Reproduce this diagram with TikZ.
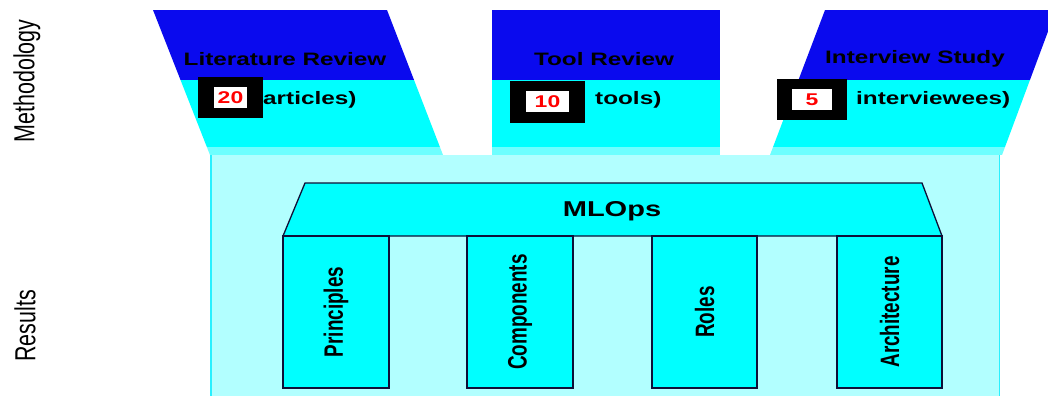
\documentclass[tikz,border=0pt]{standalone}
\usepackage{fontspec}
% wide and tall variants of the sans face
\newfontfamily\widesf[FakeStretch=1.35]{Liberation Sans}
\newfontfamily\tallsf[FakeStretch=0.74]{Liberation Sans}
\newfontfamily\tallersf[FakeStretch=0.71]{Liberation Sans}

\definecolor{deepblue}{RGB}{10,10,238}
\definecolor{aqua}{RGB}{0,255,255}
\definecolor{midaqua}{RGB}{110,255,255}
\definecolor{paleaqua}{RGB}{178,255,255}
\definecolor{edgeaqua}{RGB}{40,240,255}
\definecolor{pillarline}{RGB}{15,15,55}

\tikzset{
  pillarbox/.style={draw=pillarline, line width=1.3pt, fill=aqua, line join=miter},
  toplabel/.style={inner sep=0pt, font=\widesf\bfseries\fontsize{18}{20}\selectfont},
  countlabel/.style={inner sep=0pt, anchor=west, font=\widesf\bfseries\fontsize{18}{20}\selectfont},
  pillartext/.style={inner sep=0pt, rotate=90, font=\tallersf\bfseries\fontsize{26.6}{28}\selectfont},
  sidelabel/.style={inner sep=0pt, rotate=90, font=\tallsf\fontsize{29}{32}\selectfont},
  blackbox/.style={fill=black, draw=none},
  whitebox/.style={fill=white, draw=none},
  numtext/.style={inner sep=0pt, text=red, font=\widesf\bfseries\fontsize{17}{20}\selectfont}
}

\begin{document}
\begin{tikzpicture}[x=1pt,y=-1pt]
\useasboundingbox (0,0) rectangle (1048,396);
\fill[white] (0,0) rectangle (1048,396);

% results area
\fill[paleaqua] (210,155) rectangle (1000,396);
\draw[edgeaqua, line width=1.5pt] (211,155) -- (211,396);
\draw[edgeaqua, line width=1.5pt] (999.5,155) -- (999.5,396);

% methodology funnels: literature review
\begin{scope}
  \clip (153,10) -- (387,10) -- (443,155) -- (210,155) -- cycle;
  \fill[deepblue] (140,10) rectangle (460,80);
  \fill[aqua] (140,80) rectangle (460,147);
  \fill[midaqua] (140,147) rectangle (460,155);
\end{scope}
% tool review
\fill[deepblue] (492,10) rectangle (720,80);
\fill[aqua] (492,80) rectangle (720,147);
\fill[midaqua] (492,147) rectangle (720,155);
% interview study
\begin{scope}
  \clip (825,10) -- (1056,10) -- (1002,155) -- (770,155) -- cycle;
  \fill[deepblue] (760,10) rectangle (1060,80);
  \fill[aqua] (760,80) rectangle (1060,147);
  \fill[midaqua] (760,147) rectangle (1060,155);
\end{scope}

% funnel titles
\node[toplabel] (litT) at (285,59) {Literature Review};
\node[toplabel] (toolT) at (604,59) {Tool Review};
\node[toplabel] (intT) at (915,59) {Interview Study};

% counts
\node[countlabel] (litC) at (263,100) {articles)};
\fill[blackbox] (198,77) rectangle (263,118);
\fill[whitebox] (214,87) rectangle (247,108);
\node[numtext] (litN) at (230.5,97.5) {20};

\node[countlabel] (toolC) at (595,100) {tools)};
\fill[blackbox] (510,81) rectangle (585,123);
\fill[whitebox] (526,91) rectangle (569,112);
\node[numtext] (toolN) at (547.5,101.5) {10};

\node[countlabel] (intC) at (856,100) {interviewees)};
\fill[blackbox] (777,79) rectangle (847,120);
\fill[whitebox] (792,89) rectangle (832,110);
\node[numtext] (intN) at (812,99.5) {5};

% MLOps roof
\draw[pillarbox] (305,183) -- (922,183) -- (942,236) -- (283,236) -- cycle;
\node[inner sep=0pt, font=\widesf\bfseries\fontsize{21.5}{23}\selectfont] (mlops) at (612,211) {MLOps};

% pillars
\draw[pillarbox] (283,236) rectangle (389,388);
\draw[pillarbox] (467,236) rectangle (573,388);
\draw[pillarbox] (652,236) rectangle (757,388);
\draw[pillarbox] (837,236) rectangle (942,388);
\node[pillartext] (principles) at (336,312) {Principles};
\node[pillartext] (components) at (520,312) {Components};
\node[pillartext] (roles) at (704.5,312) {Roles};
\node[pillartext] (architecture) at (889.5,312) {Architecture};

% side labels
\node[sidelabel] (method) at (27,81) {Methodology};
\node[sidelabel] (results) at (25,326) {Results};
\end{tikzpicture}
\end{document}
